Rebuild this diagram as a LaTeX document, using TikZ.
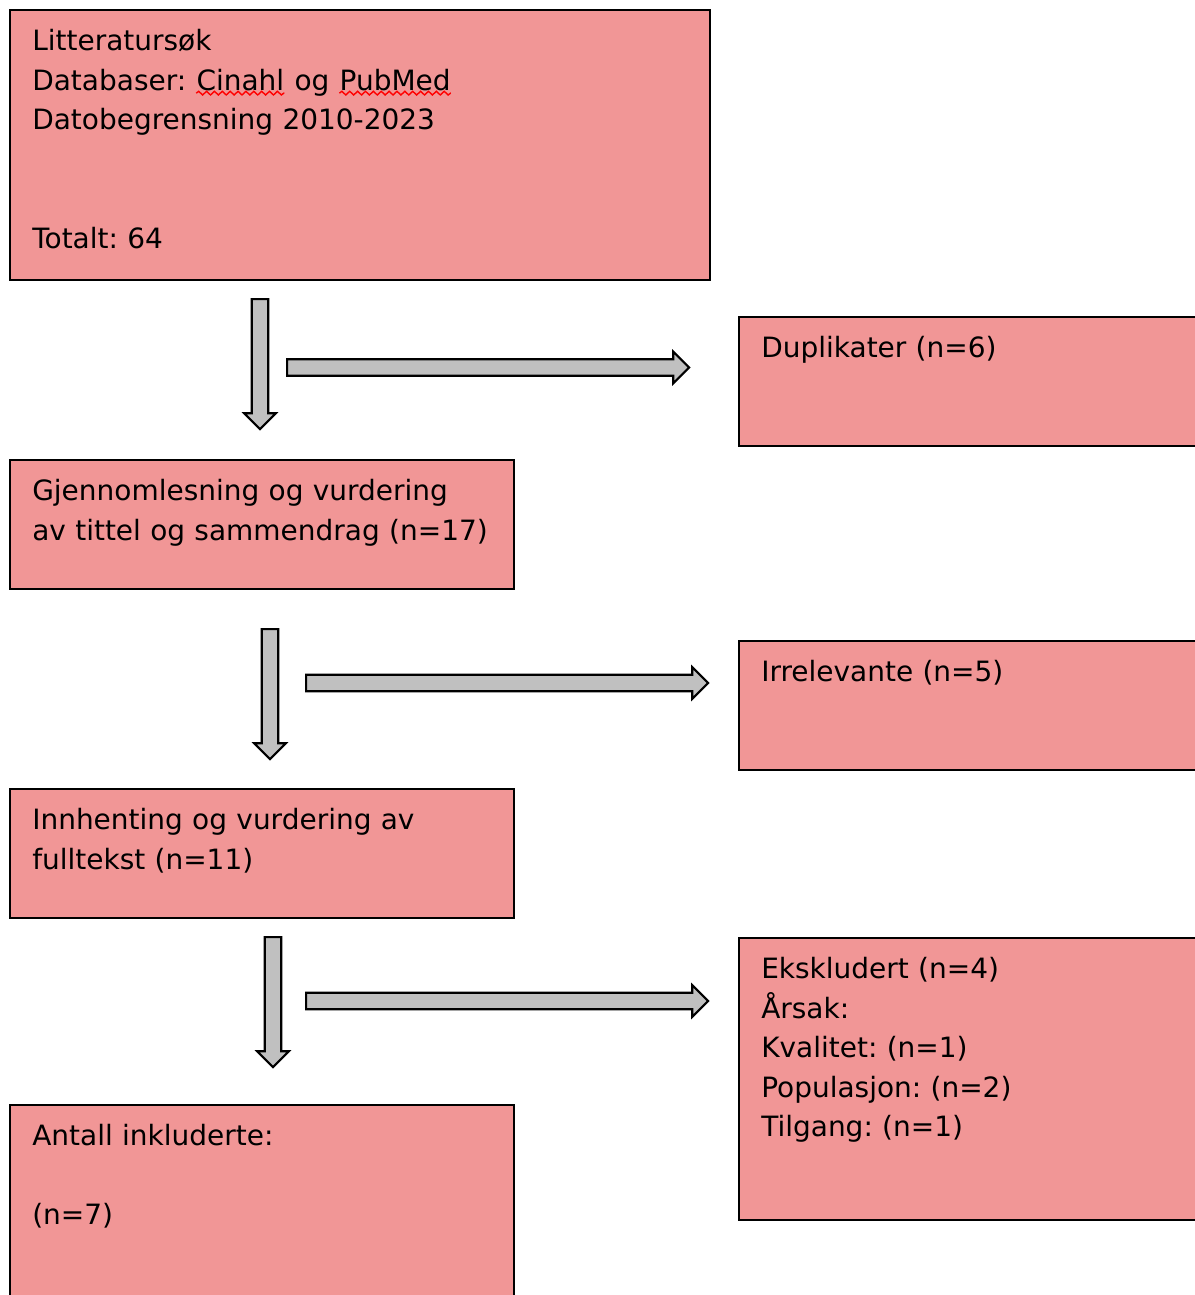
\documentclass[tikz,border=0pt]{standalone}
\usepackage{fontspec}
\setmainfont{DejaVu Sans}
\usetikzlibrary{positioning,shapes.arrows,decorations.pathmorphing}
\definecolor{boxred}{RGB}{241,150,150}
\definecolor{arrowgray}{RGB}{192,192,192}
\frenchspacing
% red wavy underline for a flagged word
\newcommand\spellwave[1]{\tikz[baseline=(w.base)]{\node[inner sep=0pt] (w) {#1};
  \draw[red, line width=1pt, decorate, decoration={snake, amplitude=1.3pt, segment length=5.6pt}]
    ([yshift=-2.2pt]w.base west) -- ([yshift=-2.2pt]w.base east);}}

\begin{document}
\begin{tikzpicture}[
  box/.style={draw, fill=boxred, line width=1.4pt, anchor=north west, inner sep=0pt},
  txt/.style={align=left, text width=16cm, inner sep=0pt, font=\fontsize{19.9pt}{28.1pt}\selectfont},
  blockarrow/.style={single arrow, draw, fill=arrowgray, line width=1.5pt, inner xsep=0pt, inner ysep=0.18cm,
    single arrow head extend=0.19cm, single arrow tip angle=90},
  down/.style={blockarrow, minimum height=3.25cm, rotate=-90},
  across/.style={blockarrow, minimum height=10.05cm}
]
\clip (0,0) rectangle (29.875,-32.375);

% --------- LEFT COLUMN ----------
\node[box, minimum width=17.5cm, minimum height=6.75cm] (sok) at (0.225,-0.225) {};
\node[box, minimum width=12.6cm, minimum height=3.225cm] (screen) at (0.225,-11.475) {};
\node[box, minimum width=12.6cm, minimum height=3.225cm] (fulltext) at (0.225,-19.7) {};
\node[box, minimum width=12.6cm, minimum height=5.025cm] (included) at (0.225,-27.6) {};

% --------- RIGHT COLUMN ----------
\node[box, minimum width=11.675cm, minimum height=3.225cm] (dupl) at (18.45,-7.9) {};
\node[box, minimum width=11.675cm, minimum height=3.225cm] (irrel) at (18.45,-16.0) {};
\node[box, minimum width=11.675cm, minimum height=7.05cm] (excl) at (18.45,-23.425) {};

% texts
\node[txt, below right=0.5cm and 0.575cm of sok.north west] (soktxt)
  {Litteratursøk\\
   Databaser: \spellwave{Cinahl} og \spellwave{PubMed}\\
   Datobegrensning 2010-2023\\[2\baselineskip]
   Totalt: 64};
\node[txt, below right=0.5cm and 0.575cm of screen.north west] (screentxt)
  {Gjennomlesning og vurdering\\ av tittel og sammendrag (n=17)};
\node[txt, below right=0.5cm and 0.575cm of fulltext.north west] (fulltexttxt)
  {Innhenting og vurdering av\\ fulltekst (n=11)};
\node[txt, below right=0.5cm and 0.575cm of included.north west] (includedtxt)
  {Antall inkluderte:\\[\baselineskip] (n=7)};
\node[txt, text width=10cm, below right=0.5cm and 0.575cm of dupl.north west] (dupltxt) {Duplikater (n=6)};
\node[txt, text width=10cm, below right=0.5cm and 0.575cm of irrel.north west] (irreltxt) {Irrelevante (n=5)};
\node[txt, text width=10cm, below right=0.5cm and 0.575cm of excl.north west] (excltxt)
  {Ekskludert (n=4)\\ Årsak:\\ Kvalitet: (n=1)\\ Populasjon: (n=2)\\ Tilgang: (n=1)};

% arrows
\node[down] (d1) at (6.5,-9.0) {};
\node[across] (r1) at (12.1,-9.1875) {};
\node[down] (d2) at (6.75,-17.25) {};
\node[across] (r2) at (12.575,-17.075) {};
\node[down] (d3) at (6.825,-24.95) {};
\node[across] (r3) at (12.575,-25.025) {};

\end{tikzpicture}
\end{document}
